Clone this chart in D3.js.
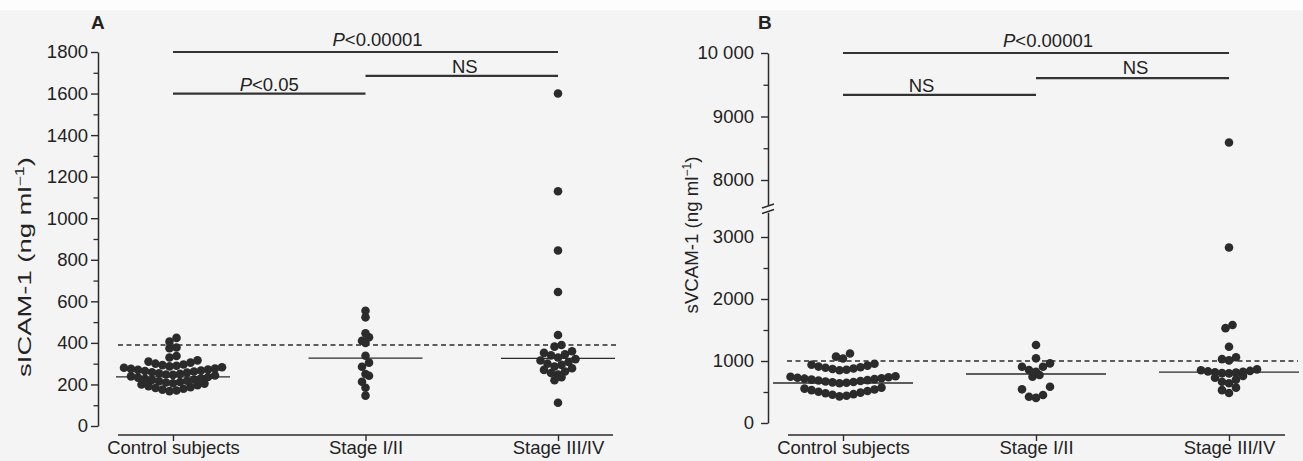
<!DOCTYPE html>
<html><head><meta charset="utf-8">
<script src="https://cdn.jsdelivr.net/npm/d3@7"></script>
<style>
body{margin:0;background:#f4f4f4}
svg{display:block}
text{font-family:"Liberation Sans",Arial,Helvetica,sans-serif;fill:#222}
</style>
</head><body>
<svg id="c" width="1303" height="461"></svg>
<script>
// ---------------- data ----------------
const categories = ["Control subjects", "Stage I/II", "Stage III/IV"];

// Panel A: sICAM-1 (ng/ml)
const icamControl = [168,171,175,179,183,187,192,196,200,204,
  206,209,212,215,218,221,224,227,230,233,236,239,243,
  246,248,251,254,257,259,262,265,267,270,272,275,277,280,283,
  287,290,293,296,300,305,310,316,
  330,337,374,378,406,424];
const icamStage12 = [555,523,446,427,410,400,338,305,285,250,242,213,184,146];
const icamStage34 = [1600,1130,845,645,438,390,382,360,352,345,340,330,
  322,315,308,300,294,286,278,270,262,255,248,235,220,112];
const icamMedians = [236, 327, 325];
const icamCutoff = 390;
const icamTicks = [0,200,400,600,800,1000,1200,1400,1600,1800];
const icamMinorTicks = [100,300,500,700,900,1100,1300,1500,1700];
const icamBrackets = [
  {from:0, to:2, level:1800, p:"P", rest:"<0.00001"},
  {from:0, to:1, level:1600, p:"P", rest:"<0.05"},
  {from:1, to:2, level:1685, p:"", rest:"NS"}
];

// Panel B: sVCAM-1 (ng/ml)
const vcamControl = [430,440,455,465,480,490,505,515,530,540,555,570,
  640,648,655,662,670,678,685,692,700,708,715,722,730,738,745,755,
  850,860,870,880,890,900,910,925,940,955,
  1040,1070,1120];
const vcamStage12 = [1258,1043,962,908,908,855,827,774,747,585,543,452,424,405];
const vcamStage34 = [8590,2830,1580,1530,1230,1060,1030,1010,
  800,805,812,818,825,832,840,850,865,
  640,665,700,730,760,485,530,570];
const vcamMedians = [645, 790, 820];
const vcamCutoff = 1000;
const vcamTicksLow = [0,1000,2000,3000];
const vcamMinorLow = [500,1500,2500];
const vcamTicksHigh = [8000,9000,10000];
const vcamMinorHigh = [8500,9500];
const vcamBrackets = [
  {from:0, to:2, level:10000, p:"P", rest:"<0.00001"},
  {from:0, to:1, level:9340, p:"", rest:"NS"},
  {from:1, to:2, level:9605, p:"", rest:"NS"}
];

// ---------------- drawing ----------------
const svg = d3.select("#c");
svg.append("rect").attr("width",1303).attr("height",461).attr("fill","#f4f4f4");
svg.append("rect").attr("width",1303).attr("height",10).attr("fill","#fdfdfd");

const INK = "#2b2b2b";
const FS = 18.5;

function swarm(values, binW, binOff, step){
  const groups = d3.group(values, v => Math.floor((v - binOff) / binW));
  const out = [];
  for (const [, vs] of groups){
    const s = vs.slice().sort((a,b)=>a-b);
    const n = s.length;
    const slots = d3.range(n).map(j => j - (n-1)/2)
      .sort((a,b)=> Math.abs(a)-Math.abs(b) || a-b);
    s.forEach((v,i)=> out.push({v, dx: slots[i]*step}));
  }
  return out;
}

function panel(opt){
  const g = svg.append("g");
  const x = d3.scalePoint().domain(categories).range(opt.xRange);
  const y = opt.y;

  // panel letter
  g.append("text").attr("x",opt.letterX).attr("y",29)
    .attr("font-size",19).attr("font-weight","bold").text(opt.letter);

  // y axis (segments)
  opt.segments.forEach(seg=>{
    const ax = d3.axisLeft(seg.scale).tickValues(seg.ticks).tickSize(7)
      .tickSizeOuter(0).tickPadding(opt.tickPad).tickFormat(opt.fmt);
    const ga = g.append("g").attr("transform",`translate(${opt.axisX},0)`).call(ax);
    ga.select(".domain").attr("stroke",INK).attr("stroke-width",1.5);
    ga.selectAll(".tick line").attr("stroke",INK).attr("stroke-width",1.4);
    ga.selectAll(".tick text").attr("font-size",FS).attr("fill","#222")
      .attr("font-family","'Liberation Sans',Arial,sans-serif");
    const am = d3.axisLeft(seg.scale).tickValues(seg.minor).tickSize(4.5)
      .tickSizeOuter(0).tickFormat("");
    const gm = g.append("g").attr("transform",`translate(${opt.axisX},0)`).call(am);
    gm.select(".domain").remove();
    gm.selectAll(".tick line").attr("stroke",INK).attr("stroke-width",1.3);
  });

  if (opt.breakY){
    opt.breakY.forEach(by=>{
      g.append("line").attr("x1",opt.axisX-6).attr("x2",opt.axisX+6)
        .attr("y1",by+2).attr("y2",by-2).attr("stroke",INK).attr("stroke-width",1.4);
    });
  }

  // y label
  const lab = g.append("text").attr("font-size",FS).attr("text-anchor","middle");
  lab.append("tspan").text(opt.ylabel);
  lab.append("tspan").attr("font-size",12).attr("dy",-7).text("\u22121");
  lab.append("tspan").attr("dy",7).text(")");
  const w = lab.node().getComputedTextLength();
  lab.attr("transform",`translate(${opt.ylabX},${opt.ylabY}) rotate(-90) scale(${opt.ylabLen/w},1)`)
     .attr("dy","0.35em");

  // category axis
  g.append("line").attr("x1",opt.baseX[0]).attr("x2",opt.baseX[1])
    .attr("y1",opt.baseY).attr("y2",opt.baseY).attr("stroke",INK).attr("stroke-width",1.6);
  const cx = d3.axisBottom(x).tickSize(6).tickPadding(0).tickSizeOuter(0);
  const gc = g.append("g").attr("transform",`translate(0,${opt.baseY})`).call(cx);
  gc.select(".domain").remove();
  gc.selectAll(".tick line").attr("stroke",INK).attr("stroke-width",1.4);
  gc.selectAll(".tick text").attr("font-size",FS).attr("fill","#222")
    .attr("font-family","'Liberation Sans',Arial,sans-serif");

  // cutoff dashed line
  g.append("line").attr("x1",opt.dashX[0]).attr("x2",opt.dashX[1])
    .attr("y1",y(opt.cutoff)).attr("y2",y(opt.cutoff))
    .attr("stroke",INK).attr("stroke-width",1.5).attr("stroke-dasharray","5,3.5");

  // medians
  g.selectAll(".med").data(opt.medians).join("line")
    .attr("x1",(d,i)=>x(categories[i])-opt.medHW).attr("x2",(d,i)=>x(categories[i])+opt.medHW)
    .attr("y1",d=>y(d)).attr("y2",d=>y(d)).attr("stroke",INK).attr("stroke-width",1.3);

  // dots
  opt.groups.forEach((vals,i)=>{
    const pts = swarm(vals, opt.binW, opt.binOff, 7);
    g.append("g").selectAll("circle").data(pts).join("circle")
      .attr("cx",d=>x(categories[i])+d.dx).attr("cy",d=>y(d.v))
      .attr("r",4.3).attr("fill",INK);
  });

  // brackets
  opt.brackets.forEach((b,k)=>{
    const x1 = x(categories[b.from]), x2 = x(categories[b.to]);
    const yy = y(b.level);
    g.append("line").attr("x1",x1).attr("x2",x2).attr("y1",yy).attr("y2",yy)
      .attr("stroke","#333").attr("stroke-width",2.2);
    const t = g.append("text").attr("x",(x1+x2)/2 + opt.labDx[k]).attr("y",yy-opt.labDy[k])
      .attr("font-size",FS).attr("text-anchor","middle");
    if (b.p) t.append("tspan").attr("font-style","italic").text(b.p);
    t.append("tspan").text(b.rest);
  });
}

// Panel A
const yA = d3.scaleLinear().domain([0,1800]).range([426,52]);
panel({
  letter:"A", letterX:91,
  xRange:[173,558], y:yA, axisX:98, tickPad:3, fmt:d3.format("d"),
  segments:[{scale:yA, ticks:icamTicks, minor:icamMinorTicks}],
  ylabel:"sICAM-1 (ng ml", ylabX:25, ylabY:267, ylabLen:220,
  baseX:[118,613], baseY:435,
  dashX:[118,617], cutoff:icamCutoff,
  medians:icamMedians, medHW:57,
  groups:[icamControl, icamStage12, icamStage34], binW:40, binOff:5,
  brackets:icamBrackets, labDx:[12,0,3], labDy:[6,3,3]
});

// Panel B
const yBlow = d3.scaleLinear().domain([0,3400]).range([423,212.2]);
const yBhigh = d3.scaleLinear().domain([7600,10000]).range([205.4,53]);
const yB = v => v >= 5000 ? yBhigh(v) : yBlow(v);
const fmtB = d => d >= 10000 ? d3.format(",")(d).replace(",", " ") : String(d);
panel({
  letter:"B", letterX:758,
  xRange:[843,1229], y:yB, axisX:768, tickPad:7, fmt:fmtB,
  segments:[{scale:yBlow, ticks:vcamTicksLow, minor:vcamMinorLow},
            {scale:yBhigh, ticks:vcamTicksHigh, minor:vcamMinorHigh}],
  breakY:[206,211.5],
  ylabel:"sVCAM-1 (ng ml", ylabX:692, ylabY:235, ylabLen:157,
  baseX:[788,1285], baseY:435,
  dashX:[787,1298], cutoff:vcamCutoff,
  medians:vcamMedians, medHW:70,
  groups:[vcamControl, vcamStage12, vcamStage34], binW:200, binOff:0,
  brackets:vcamBrackets, labDx:[12,-18,3], labDy:[6,3,4]
});
</script>
</body></html>
